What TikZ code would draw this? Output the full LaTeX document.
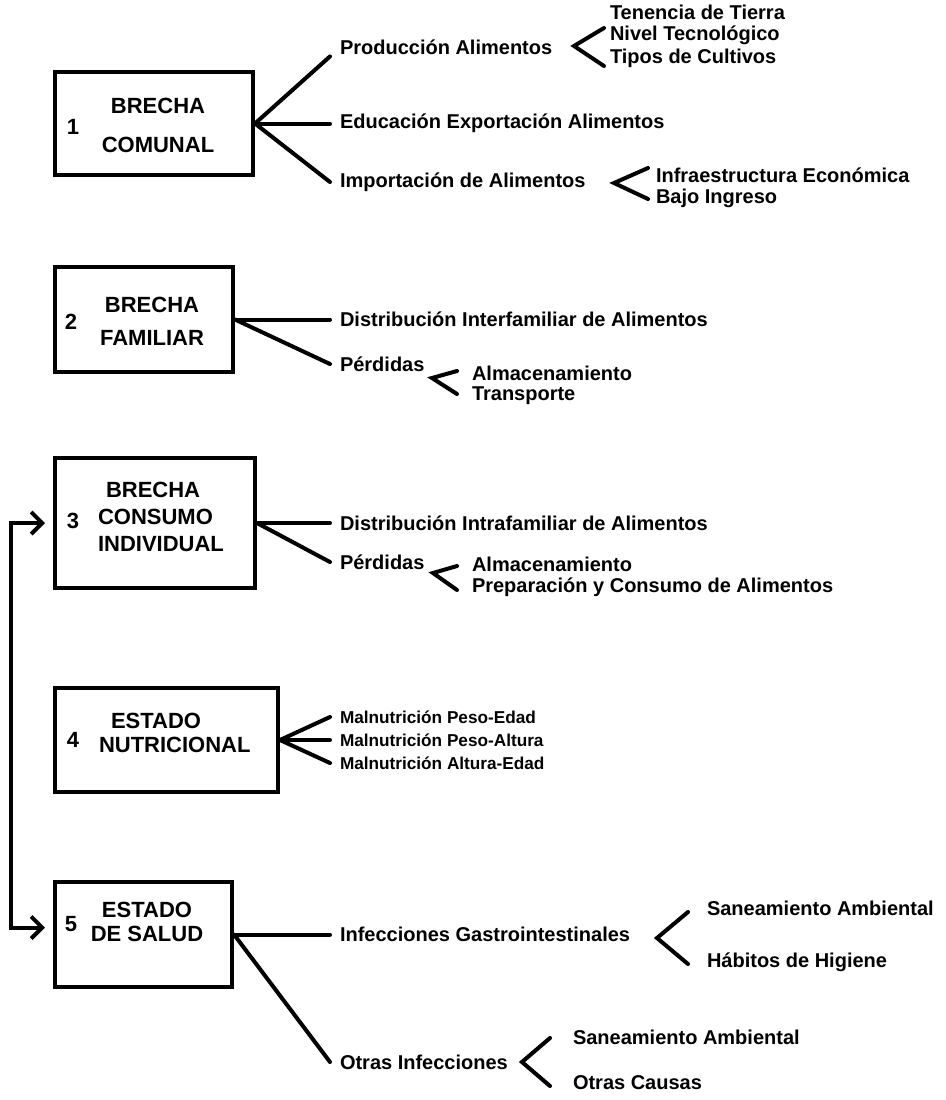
\documentclass[tikz,border=0pt]{standalone}
\usepackage{fontspec}
\setmainfont{Liberation Sans}
\usetikzlibrary{arrows.meta}

\begin{document}
\begin{tikzpicture}[x=0.5pt, y=-0.5pt, line width=2pt, line cap=round]
		\tikzstyle{box} = [draw, rectangle, inner sep=0pt, line cap=butt]
		\tikzstyle{lbl} = [inner sep=0pt, font=\bfseries\fontsize{11}{13}\selectfont]
		\tikzstyle{txt} = [anchor=west, inner xsep=4pt, inner ysep=0pt, font=\bfseries\fontsize{10}{12}\selectfont]
		\tikzstyle{sml} = [txt, font=\bfseries\fontsize{8.6}{10}\selectfont]
		\useasboundingbox (0,0) rectangle (946,1100);

		\node[box, minimum width=99pt, minimum height=51.5pt] (b1) at (154,123.5) {};
		\node[box, minimum width=89pt, minimum height=52.5pt] (b2) at (144,319.5) {};
		\node[box, minimum width=100pt, minimum height=65pt] (b3) at (155,523) {};
		\node[box, minimum width=111.5pt, minimum height=52pt] (b4) at (166.5,740) {};
		\node[box, minimum width=88.5pt, minimum height=52.5pt] (b5) at (143.5,934.5) {};

		\node[lbl] (n1) at (73,127) {1};
		\node[lbl] (n2) at (71,322) {2};
		\node[lbl] (n3) at (73,521) {3};
		\node[lbl] (n4) at (73,740) {4};
		\node[lbl] (n5) at (71,924) {5};

		\node[lbl, align=center, font=\bfseries\fontsize{11}{19.5}\selectfont] (l1) at (158,125) {BRECHA\\COMUNAL};
		\node[lbl, align=center, font=\bfseries\fontsize{11}{16.5}\selectfont] (l2) at (152,321) {BRECHA\\FAMILIAR};
		\node[lbl, align=left, anchor=west, font=\bfseries\fontsize{11}{13.5}\selectfont] (l3) at (96,517) {\hspace*{4pt}BRECHA\\CONSUMO\\INDIVIDUAL};
		\node[lbl, align=left, anchor=west, font=\bfseries\fontsize{11}{12}\selectfont] (l4) at (97,733) {\hspace*{6pt}ESTADO\\NUTRICIONAL};
		\node[lbl, align=center, font=\bfseries\fontsize{11}{12}\selectfont] (l5) at (147,922) {ESTADO\\DE SALUD};

		\node[txt] (t11) at (330,47) {Producción Alimentos};
		\node[txt] (t12) at (330,123.5) {Educación Exportación Alimentos};
		\node[txt] (t13) at (330,182) {Importación de Alimentos};
		\node[txt] (t111) at (600,12) {Tenencia de Tierra};
		\node[txt] (t112) at (600,35) {Nivel Tecnológico};
		\node[txt] (t113) at (600,58) {Tipos de Cultivos};
		\node[txt] (t131) at (646,175) {Infraestructura Económica};
		\node[txt] (t132) at (646,198) {Bajo Ingreso};

		\node[txt] (t21) at (330,319.5) {Distribución Interfamiliar de Alimentos};
		\node[txt] (t22) at (330,364) {Pérdidas};
		\node[txt] (t221) at (462,373) {Almacenamiento};
		\node[txt] (t222) at (462,396) {Transporte};

		\node[txt] (t31) at (330,523) {Distribución Intrafamiliar de Alimentos};
		\node[txt] (t32) at (330,562) {Pérdidas};
		\node[txt] (t321) at (462,564) {Almacenamiento};
		\node[txt] (t322) at (462,587) {Preparación y Consumo de Alimentos};

		\node[sml] (t41) at (330,717) {Malnutrición Peso-Edad};
		\node[sml] (t42) at (330,740) {Malnutrición Peso-Altura};
		\node[sml] (t43) at (330,763) {Malnutrición Altura-Edad};

		\node[txt] (t51) at (330,934.5) {Infecciones Gastrointestinales};
		\node[txt] (t52) at (330,1062) {Otras Infecciones};
		\node[txt] (t511) at (697,908) {Saneamiento Ambiental};
		\node[txt] (t512) at (697,962) {Hábitos de Higiene};
		\node[txt] (t521) at (563,1037) {Saneamiento Ambiental};
		\node[txt] (t522) at (563,1083) {Otras Causas};

		\draw (b1.east) -- (t11.south west);
		\draw (b1.east) -- (t12.west);
		\draw (b1.east) -- (t13.west);
		\draw (b2.east) -- (t21.west);
		\draw (b2.east) -- (t22.west);
		\draw (b3.east) -- (t31.west);
		\draw (b3.east) -- (t32.west);
		\draw (b4.east) -- (t41.west);
		\draw (b4.east) -- (t42.west);
		\draw (b4.east) -- (t43.west);
		\draw (b5.east) -- (t51.west);
		\draw (b5.east) -- (t52.west);

		\draw (604,28) -- (574,46) -- (604,66);
		\draw (648,168) -- (614,183) -- (648,199);
		\draw (457,371) -- (432,378) -- (457,394);
		\draw (457,566) -- (433,573) -- (457,590);
		\draw (688,912) -- (657,938) -- (688,964);
		\draw (550,1038) -- (522,1062) -- (550,1086);

		\draw[{Straight Barb[length=5.5pt,width=11pt]}-{Straight Barb[length=5.5pt,width=11pt]}, line cap=butt]
			([xshift=-4pt]b3.west) -- ++(-34,0) |- ([xshift=-4pt,yshift=3.5pt]b5.west);
\end{tikzpicture}
\end{document}
